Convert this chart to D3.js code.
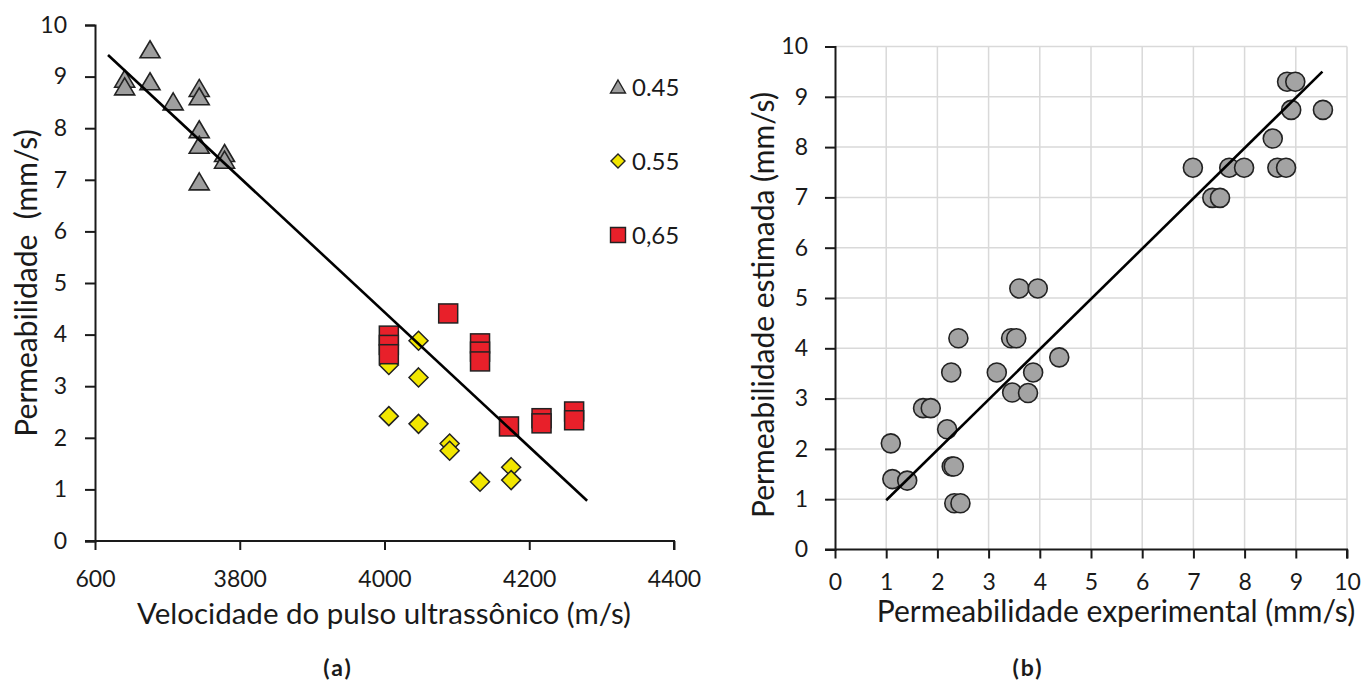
<!DOCTYPE html>
<html>
<head>
<meta charset="utf-8">
<script src="https://cdn.jsdelivr.net/npm/d3@7"></script>
<style>
  body { margin: 0; background: #fff; }
  svg text { font-family: Lato, "Open Sans", sans-serif; fill: #1a1a1a; }
</style>
</head>
<body>
<svg width="1368" height="682"></svg>
<script>
// ---- chart (a) data ----
var xTicksA = [3600, 3800, 4000, 4200, 4400];
var xTickLabelsA = ["600", "3800", "4000", "4200", "4400"];
var yTicksA = [0, 1, 2, 3, 4, 5, 6, 7, 8, 9, 10];

// a/c 0.45 (triangles)
var vel045 = [3641, 3641, 3676, 3676, 3708, 3744, 3744, 3744, 3744, 3744, 3779, 3779];
var perm045 = [8.95, 8.8, 9.52, 8.9, 8.51, 8.77, 8.61, 7.97, 7.67, 6.96, 7.51, 7.38];
// a/c 0.55 (diamonds)
var vel055 = [4006, 4006, 4047, 4047, 4047, 4090, 4090, 4132, 4175, 4175];
var perm055 = [3.41, 2.42, 3.88, 3.17, 2.27, 1.89, 1.75, 1.15, 1.43, 1.18];
// a/c 0.65 (squares)
var vel065 = [4006, 4006, 4006, 4088, 4132, 4132, 4132, 4172, 4217, 4217, 4262, 4262];
var perm065 = [3.98, 3.8, 3.62, 4.41, 3.83, 3.67, 3.48, 2.22, 2.38, 2.28, 2.51, 2.34];

var trendVelA = [3618, 4280];
var trendPermA = [9.42, 0.78];

var legendLabels = ["0.45", "0.55", "0,65"];

// ---- chart (b) data ----
var ticksB = [0, 1, 2, 3, 4, 5, 6, 7, 8, 9, 10];
var expB = [1.09, 1.12, 1.41, 1.72, 1.87, 2.19, 2.27, 2.28, 2.32, 2.33, 2.45, 2.41,
            3.16, 3.46, 3.44, 3.54, 3.77, 3.87, 4.38, 3.6, 3.96,
            6.99, 7.37, 7.52, 7.7, 7.99, 8.55, 8.64, 8.81, 8.91, 9.53, 8.83, 8.99];
var estB = [2.11, 1.4, 1.37, 2.81, 2.81, 2.39, 3.52, 1.65, 1.65, 0.92, 0.92, 4.2,
            3.52, 3.12, 4.2, 4.2, 3.11, 3.52, 3.82, 5.19, 5.19,
            7.59, 6.99, 6.99, 7.59, 7.59, 8.17, 7.59, 7.59, 8.74, 8.74, 9.3, 9.3];
var trendExpB = [1.0, 9.52];
var trendEstB = [0.98, 9.5];

var svg = d3.select("svg");

function styleAxis(ax) {
  ax.select(".domain").attr("stroke", "#1a1a1a").attr("stroke-width", 2);
  ax.selectAll(".tick line").attr("stroke", "#1a1a1a").attr("stroke-width", 2);
  ax.selectAll(".tick text").attr("font-size", 23).attr("fill", "#1a1a1a");
}

// ================= chart (a) =================
var xA = d3.scaleLinear().domain([3600, 4400]).range([95, 674]);
var yA = d3.scaleLinear().domain([0, 10]).range([541, 25]);

var gA = svg.append("g");

var yAxisA = gA.append("g")
    .attr("transform", "translate(95,0)")
    .call(d3.axisLeft(yA).tickValues(yTicksA).tickSize(10).tickPadding(18));
var xAxisA = gA.append("g")
    .attr("transform", "translate(0,541)")
    .call(d3.axisBottom(xA).tickValues(xTicksA).tickSize(9).tickPadding(21)
      .tickFormat(function(d, i) { return xTickLabelsA[i]; }));
styleAxis(yAxisA);
styleAxis(xAxisA);
// x axis line starts a little left of the y axis, like the original
xAxisA.select(".domain").attr("d", "M" + (xA(3600) - 10) + ",0H" + xA(4400) + "V9");

var triPath = "M0,-9L10,8L-10,8Z";
var diaPath = "M0,-9.5L9.5,0L0,9.5L-9.5,0Z";

gA.append("g").selectAll("path")
  .data(d3.zip(vel045, perm045))
  .enter().append("path")
    .attr("d", triPath)
    .attr("transform", function(d) { return "translate(" + xA(d[0]) + "," + yA(d[1]) + ")"; })
    .attr("fill", "#9e9e9e")
    .attr("stroke", "#222")
    .attr("stroke-width", 1.6);

gA.append("g").selectAll("path")
  .data(d3.zip(vel055, perm055))
  .enter().append("path")
    .attr("d", diaPath)
    .attr("transform", function(d) { return "translate(" + xA(d[0]) + "," + yA(d[1]) + ")"; })
    .attr("fill", "#f2e600")
    .attr("stroke", "#222")
    .attr("stroke-width", 1.5);

gA.append("g").selectAll("rect")
  .data(d3.zip(vel065, perm065))
  .enter().append("rect")
    .attr("x", function(d) { return xA(d[0]) - 9.5; })
    .attr("y", function(d) { return yA(d[1]) - 9.5; })
    .attr("width", 19)
    .attr("height", 19)
    .attr("fill", "#e8202a")
    .attr("stroke", "#222")
    .attr("stroke-width", 1.5);

gA.append("line")
    .attr("x1", xA(trendVelA[0])).attr("y1", yA(trendPermA[0]))
    .attr("x2", xA(trendVelA[1])).attr("y2", yA(trendPermA[1]))
    .attr("stroke", "#000").attr("stroke-width", 2.6);

// legend
var legY = [87, 161, 235];
var leg = gA.append("g").selectAll("g")
  .data(legendLabels)
  .enter().append("g")
    .attr("transform", function(d, i) { return "translate(618," + legY[i] + ")"; });
leg.append("path")
    .attr("d", function(d, i) {
      if (i === 0) return "M0,-7L7.5,6L-7.5,6Z";
      if (i === 1) return "M0,-7L7,0L0,7L-7,0Z";
      return "M-7.5,-7.5H7.5V7.5H-7.5Z";
    })
    .attr("fill", function(d, i) { return ["#9e9e9e", "#f2e600", "#e8202a"][i]; })
    .attr("stroke", "#222")
    .attr("stroke-width", 1.4);
leg.append("text")
    .attr("x", 14)
    .attr("dy", "0.36em")
    .attr("font-size", 24)
    .text(function(d) { return d; });

gA.append("text")
    .attr("transform", "translate(37,283) rotate(-90)")
    .attr("text-anchor", "middle")
    .attr("font-size", 30)
    .attr("xml:space", "preserve")
    .text("Permeabilidade  (mm/s)");

gA.append("text")
    .attr("x", 384).attr("y", 624)
    .attr("text-anchor", "middle")
    .attr("font-size", 29.5)
    .text("Velocidade do pulso ultrassônico (m/s)");

svg.append("text")
    .attr("x", 338).attr("y", 676)
    .attr("text-anchor", "middle")
    .attr("font-family", "'Open Sans', sans-serif")
    .attr("font-size", 23)
    .attr("font-weight", "bold")
    .attr("letter-spacing", 2)
    .text("(a)");

// ================= chart (b) =================
var xB = d3.scaleLinear().domain([0, 10]).range([835, 1347]);
var yB = d3.scaleLinear().domain([0, 10]).range([549.5, 46.5]);

var gB = svg.append("g");

// grid
gB.append("g").selectAll("line")
  .data(ticksB.slice(1))
  .enter().append("line")
    .attr("x1", function(d) { return xB(d); }).attr("x2", function(d) { return xB(d); })
    .attr("y1", yB(0)).attr("y2", yB(10))
    .attr("stroke", "#d9d9d9").attr("stroke-width", 1.5);
gB.append("g").selectAll("line")
  .data(ticksB.slice(1))
  .enter().append("line")
    .attr("x1", xB(0)).attr("x2", xB(10))
    .attr("y1", function(d) { return yB(d); }).attr("y2", function(d) { return yB(d); })
    .attr("stroke", "#d9d9d9").attr("stroke-width", 1.5);

var yAxisB = gB.append("g")
    .attr("transform", "translate(835,0)")
    .call(d3.axisLeft(yB).tickValues(ticksB).tickSize(10).tickPadding(17));
var xAxisB = gB.append("g")
    .attr("transform", "translate(0,549.5)")
    .call(d3.axisBottom(xB).tickValues(ticksB).tickSize(9).tickPadding(15));
styleAxis(yAxisB);
styleAxis(xAxisB);
xAxisB.select(".domain").attr("d", "M" + (xB(0) - 10) + ",0H" + xB(10) + "V9");

gB.append("g").selectAll("circle")
  .data(d3.zip(expB, estB))
  .enter().append("circle")
    .attr("cx", function(d) { return xB(d[0]); })
    .attr("cy", function(d) { return yB(d[1]); })
    .attr("r", 9.5)
    .attr("fill", "#a3a3a3")
    .attr("stroke", "#222")
    .attr("stroke-width", 1.6);

gB.append("line")
    .attr("x1", xB(trendExpB[0])).attr("y1", yB(trendEstB[0]))
    .attr("x2", xB(trendExpB[1])).attr("y2", yB(trendEstB[1]))
    .attr("stroke", "#000").attr("stroke-width", 2.6);

gB.append("text")
    .attr("transform", "translate(774,305) rotate(-90)")
    .attr("text-anchor", "middle")
    .attr("font-size", 30)
    .text("Permeabilidade estimada (mm/s)");

gB.append("text")
    .attr("x", 1116).attr("y", 622)
    .attr("text-anchor", "middle")
    .attr("font-size", 30)
    .text("Permeabilidade experimental (mm/s)");

svg.append("text")
    .attr("x", 1028).attr("y", 676)
    .attr("text-anchor", "middle")
    .attr("font-family", "'Open Sans', sans-serif")
    .attr("font-size", 23)
    .attr("font-weight", "bold")
    .attr("letter-spacing", 2)
    .text("(b)");
</script>
</body>
</html>
